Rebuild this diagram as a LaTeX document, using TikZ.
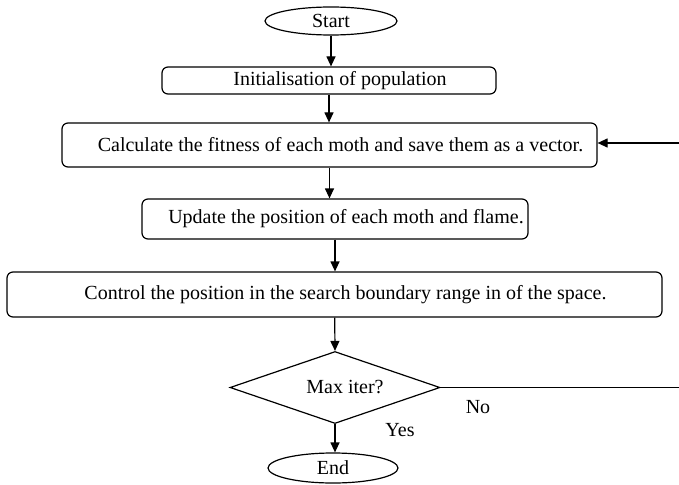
\documentclass[tikz,border=0pt]{standalone}
\usepackage{fontspec}
\setmainfont{Liberation Serif}
\usetikzlibrary{shapes.geometric,arrows.meta}

\begin{document}
\begin{tikzpicture}[x=1pt, y=-1pt, font=\fontsize{20}{24}\selectfont]
		\tikzset{box/.style = {shape=rectangle, draw, rounded corners=6pt, line width=1.2pt, inner sep=0pt, execute at begin node={\hspace{22pt}}},
			term/.style = {shape=ellipse, draw, line width=1.2pt, inner sep=0pt},
			cond/.style = {shape=diamond, draw, line width=1.2pt, inner sep=0pt, aspect=3, execute at begin node={\hspace{20pt}}},
			arrow/.style = {-{Triangle[length=10pt,width=9pt]}, line width=1.2pt}}

		\useasboundingbox (0,0) rectangle (679,484);

		\node[term, minimum width=132pt, minimum height=28pt] (S) at (331,21) {Start};
		\node[box, minimum width=334pt, minimum height=27pt] (B_1) at (329,80.5) {Initialisation of population};
		\node[box, minimum width=535pt, minimum height=44pt] (B_2) at (329.5,145) {Calculate the fitness of each moth and save them as a vector.};
		\node[box, minimum width=386pt, minimum height=40pt] (B_3) at (335,219) {Update the position of each moth and flame.};
		\node[box, minimum width=655pt, minimum height=45pt] (B_4) at (334.5,294.5) {Control the position in the search boundary range in of the space.};
		\node[cond, minimum width=210pt, minimum height=72pt] (D) at (335,387.5) {Max iter?};
		\node[term, minimum width=130pt, minimum height=30pt] (E) at (333,468) {End};

		\node (No) at (478,407) {No};
		\node (Yes) at (400,430) {Yes};

		\draw[arrow] (S) -- (S |- B_1.north);
		\draw[arrow] (B_1) -- (B_1 |- B_2.north);
		\draw[arrow] (B_2) -- (B_2 |- B_3.north);
		\draw[arrow] (B_3) -- (B_3 |- B_4.north);
		\draw[arrow] (B_4) -- (D.north);
		\draw[arrow] (D.south) -- (D.south |- E.north);

		% back to the fitness step
		\coordinate (R) at (700,143);
		\draw[arrow] (D.east) -| (R) -- (R -| B_2.east);

	\end{tikzpicture}
\end{document}
